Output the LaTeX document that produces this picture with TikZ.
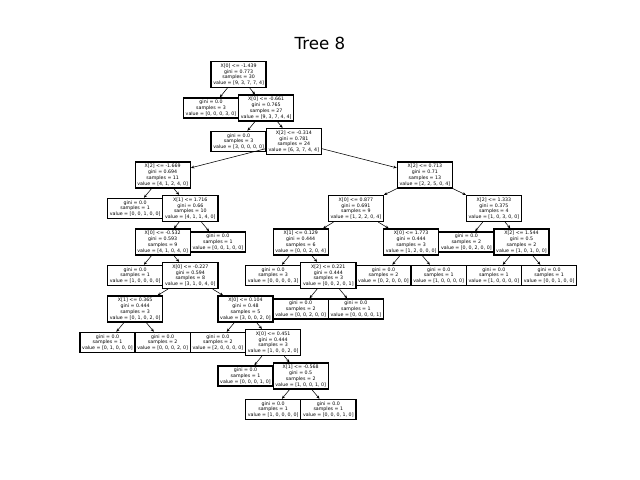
\documentclass[tikz,border=0pt]{standalone}
\usepackage{fontspec}
\setmainfont{DejaVu Sans}
\usetikzlibrary{arrows.meta}

\begin{document}
\begin{tikzpicture}[x=19.872pt, y=-24.12pt,
    splitbox/.style={draw, rectangle, fill=white, line width=1pt, inner xsep=1.6pt, inner ysep=1.6pt, align=center, font=\fontsize{3.4}{4.1}\selectfont},
    leafbox/.style={splitbox},
    >={Stealth[length=2.4pt, width=2pt]}]
    \useasboundingbox (-3.895,-2.224) rectangle (19.293,12.104);

    % Draw title
    \node (title) at (7.699,-0.94) {\fontsize{12}{14}\selectfont Tree 8};

    % Draw split nodes
    \node (node0) at (4.75,0) [splitbox] {X[0] <= -1.439\\gini = 0.773\\samples = 30\\value = [9, 3, 7, 7, 4]};
    \node (node2) at (5.75,1) [splitbox] {X[0] <= -0.661\\gini = 0.765\\samples = 27\\value = [9, 3, 7, 4, 4]};
    \node (node4) at (6.75,2) [splitbox] {X[2] <= -0.314\\gini = 0.781\\samples = 24\\value = [6, 3, 7, 4, 4]};
    \node (node5) at (2,3) [splitbox] {X[2] <= -1.669\\gini = 0.694\\samples = 11\\value = [4, 1, 2, 4, 0]};
    \node (node7) at (3,4) [splitbox] {X[1] <= 1.716\\gini = 0.66\\samples = 10\\value = [4, 1, 1, 4, 0]};
    \node (node8) at (2,5) [splitbox] {X[0] <= -0.532\\gini = 0.593\\samples = 9\\value = [4, 1, 0, 4, 0]};
    \node (node10) at (3,6) [splitbox] {X[0] <= -0.227\\gini = 0.594\\samples = 8\\value = [3, 1, 0, 4, 0]};
    \node (node11) at (1,7) [splitbox] {X[1] <= 0.365\\gini = 0.444\\samples = 3\\value = [0, 1, 0, 2, 0]};
    \node (node14) at (5,7) [splitbox] {X[0] <= 0.104\\gini = 0.48\\samples = 5\\value = [3, 0, 0, 2, 0]};
    \node (node16) at (6,8) [splitbox] {X[0] <= 0.451\\gini = 0.444\\samples = 3\\value = [1, 0, 0, 2, 0]};
    \node (node18) at (7,9) [splitbox] {X[1] <= -0.568\\gini = 0.5\\samples = 2\\value = [1, 0, 0, 1, 0]};
    \node (node22) at (11.5,3) [splitbox] {X[2] <= 0.713\\gini = 0.71\\samples = 13\\value = [2, 2, 5, 0, 4]};
    \node (node23) at (9,4) [splitbox] {X[0] <= 0.877\\gini = 0.691\\samples = 9\\value = [1, 2, 2, 0, 4]};
    \node (node24) at (7,5) [splitbox] {X[1] <= 0.129\\gini = 0.444\\samples = 6\\value = [0, 0, 2, 0, 4]};
    \node (node26) at (8,6) [splitbox] {X[2] <= 0.221\\gini = 0.444\\samples = 3\\value = [0, 0, 2, 0, 1]};
    \node (node29) at (11,5) [splitbox] {X[0] <= 1.773\\gini = 0.444\\samples = 3\\value = [1, 2, 0, 0, 0]};
    \node (node32) at (14,4) [splitbox] {X[2] <= 1.333\\gini = 0.375\\samples = 4\\value = [1, 0, 3, 0, 0]};
    \node (node34) at (15,5) [splitbox] {X[2] <= 1.544\\gini = 0.5\\samples = 2\\value = [1, 0, 1, 0, 0]};

    % Draw leaves
    \node (node1) at (3.75,1) [leafbox] {gini = 0.0\\samples = 3\\value = [0, 0, 0, 3, 0]};
    \node (node3) at (4.75,2) [leafbox] {gini = 0.0\\samples = 3\\value = [3, 0, 0, 0, 0]};
    \node (node6) at (1,4) [leafbox] {gini = 0.0\\samples = 1\\value = [0, 0, 1, 0, 0]};
    \node (node9) at (1,6) [leafbox] {gini = 0.0\\samples = 1\\value = [1, 0, 0, 0, 0]};
    \node (node12) at (0,8) [leafbox] {gini = 0.0\\samples = 1\\value = [0, 1, 0, 0, 0]};
    \node (node13) at (2,8) [leafbox] {gini = 0.0\\samples = 2\\value = [0, 0, 0, 2, 0]};
    \node (node15) at (4,8) [leafbox] {gini = 0.0\\samples = 2\\value = [2, 0, 0, 0, 0]};
    \node (node17) at (5,9) [leafbox] {gini = 0.0\\samples = 1\\value = [0, 0, 0, 1, 0]};
    \node (node19) at (6,10) [leafbox] {gini = 0.0\\samples = 1\\value = [1, 0, 0, 0, 0]};
    \node (node20) at (8,10) [leafbox] {gini = 0.0\\samples = 1\\value = [0, 0, 0, 1, 0]};
    \node (node21) at (4,5) [leafbox] {gini = 0.0\\samples = 1\\value = [0, 0, 1, 0, 0]};
    \node (node25) at (6,6) [leafbox] {gini = 0.0\\samples = 3\\value = [0, 0, 0, 0, 3]};
    \node (node27) at (7,7) [leafbox] {gini = 0.0\\samples = 2\\value = [0, 0, 2, 0, 0]};
    \node (node28) at (9,7) [leafbox] {gini = 0.0\\samples = 1\\value = [0, 0, 0, 0, 1]};
    \node (node30) at (10,6) [leafbox] {gini = 0.0\\samples = 2\\value = [0, 2, 0, 0, 0]};
    \node (node31) at (12,6) [leafbox] {gini = 0.0\\samples = 1\\value = [1, 0, 0, 0, 0]};
    \node (node33) at (13,5) [leafbox] {gini = 0.0\\samples = 2\\value = [0, 0, 2, 0, 0]};
    \node (node35) at (14,6) [leafbox] {gini = 0.0\\samples = 1\\value = [1, 0, 0, 0, 0]};
    \node (node36) at (16,6) [leafbox] {gini = 0.0\\samples = 1\\value = [0, 0, 1, 0, 0]};

    % Draw arrows
    \draw[->] (node0) -- (node1);
    \draw[->] (node0) -- (node2);
    \draw[->] (node2) -- (node3);
    \draw[->] (node2) -- (node4);
    \draw[->] (node4) -- (node5);
    \draw[->] (node4) -- (node22);
    \draw[->] (node5) -- (node6);
    \draw[->] (node5) -- (node7);
    \draw[->] (node7) -- (node8);
    \draw[->] (node7) -- (node21);
    \draw[->] (node8) -- (node9);
    \draw[->] (node8) -- (node10);
    \draw[->] (node10) -- (node11);
    \draw[->] (node10) -- (node14);
    \draw[->] (node11) -- (node12);
    \draw[->] (node11) -- (node13);
    \draw[->] (node14) -- (node15);
    \draw[->] (node14) -- (node16);
    \draw[->] (node16) -- (node17);
    \draw[->] (node16) -- (node18);
    \draw[->] (node18) -- (node19);
    \draw[->] (node18) -- (node20);
    \draw[->] (node22) -- (node23);
    \draw[->] (node22) -- (node32);
    \draw[->] (node23) -- (node24);
    \draw[->] (node23) -- (node29);
    \draw[->] (node24) -- (node25);
    \draw[->] (node24) -- (node26);
    \draw[->] (node26) -- (node27);
    \draw[->] (node26) -- (node28);
    \draw[->] (node29) -- (node30);
    \draw[->] (node29) -- (node31);
    \draw[->] (node32) -- (node33);
    \draw[->] (node32) -- (node34);
    \draw[->] (node34) -- (node35);
    \draw[->] (node34) -- (node36);
\end{tikzpicture}
\end{document}
